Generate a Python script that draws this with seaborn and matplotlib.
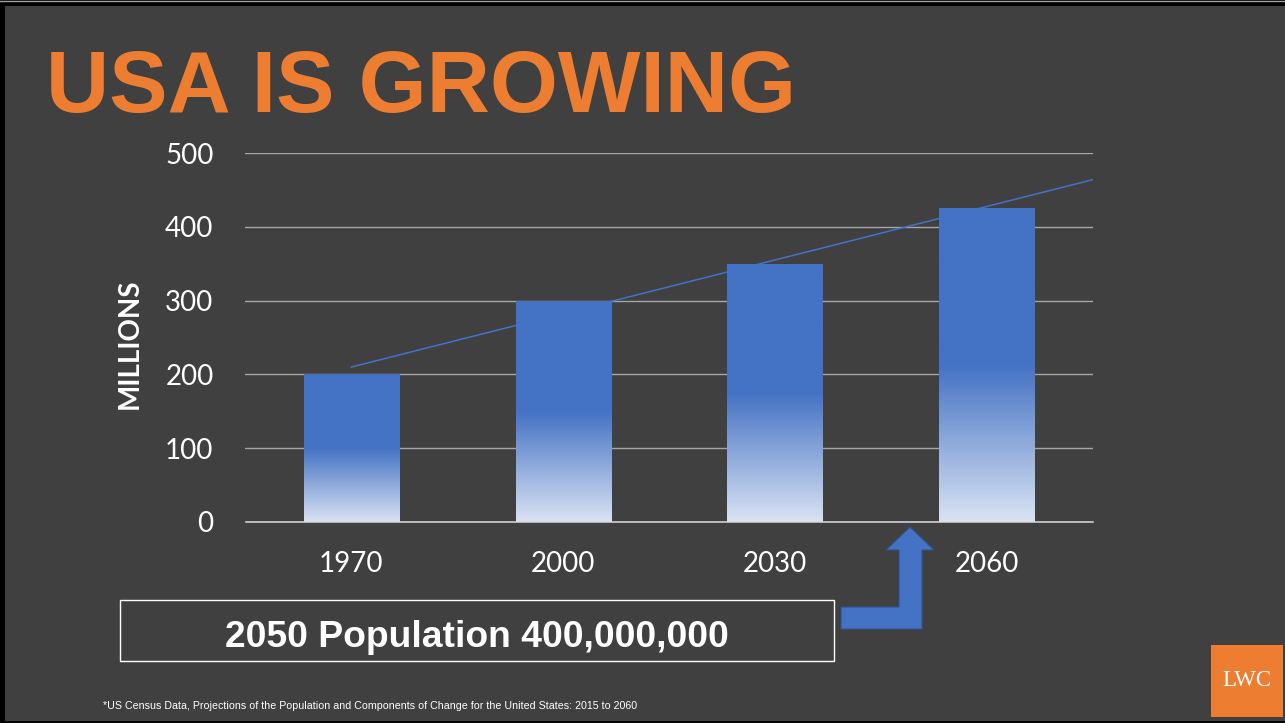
import numpy as np
import pandas as pd
import matplotlib
matplotlib.use("Agg")
import matplotlib.pyplot as plt
from matplotlib.patches import Rectangle, Polygon
from matplotlib.colors import to_rgb
import seaborn as sns

# Population by year, in millions
years = ["1970", "2000", "2030", "2060"]
population = [200, 300, 350, 425]
y_ticks = [0, 100, 200, 300, 400, 500]

title = "USA IS GROWING"
y_label = "MILLIONS"
callout = "2050 Population 400,000,000"
source_note = ("*US Census Data, Projections of the Population and Components "
               "of Change for the United States: 2015 to 2060")
logo = "LWC"

W, H = 1285, 723
BG = "#404040"
BLUE = "#4472c4"
LIGHT = "#dae3f3"
ORANGE = "#ed7d31"


def fx(x):
    return x / W


def fy(y):
    return 1 - y / H


fig = plt.figure(figsize=(W / 100, H / 100), dpi=100, facecolor="black")

# slide panel
fig.patches.append(Rectangle((fx(5), fy(721)), 1 - fx(5), fy(6) - fy(721),
                             transform=fig.transFigure, facecolor=BG,
                             edgecolor="none", zorder=-10))
fig.lines.append(plt.Line2D([0, 1], [fy(0.5), fy(0.5)], transform=fig.transFigure,
                            color="#a0a0a0", lw=1))

ax = fig.add_axes([fx(245.5), fy(522), fx(847), fy(153) - fy(522)])
ax.set_facecolor("none")

df = pd.DataFrame({"year": years, "population": population})
sns.barplot(data=df, x="year", y="population", color=BLUE, width=0.449,
            saturation=1, ax=ax, zorder=2)

# vertical gradient fill: light at the base, solid blue over the upper half
n = 256
t = np.linspace(0, 1, n)
mix = np.clip(t / 0.5, 0, 1)
c0, c1 = np.array(to_rgb(LIGHT)), np.array(to_rgb(BLUE))
grad = (c0[None, :] * (1 - mix[:, None]) + c1[None, :] * mix[:, None])
grad = np.repeat(grad[:, None, :], 2, axis=1)
for patch in ax.patches:
    x0, w, h = patch.get_x(), patch.get_width(), patch.get_height()
    im = ax.imshow(grad, extent=[x0, x0 + w, 0, h], origin="lower",
                   aspect="auto", zorder=2.5, interpolation="bilinear")
    im.set_clip_path(patch)

# linear trendline extended half a category forward
xs = np.arange(len(population))
slope, intercept = np.polyfit(xs, population, 1)
xt = np.array([0, len(population) - 0.5])
ax.plot(xt, intercept + slope * xt, color=BLUE, lw=1.1, zorder=3)

ax.set_xlim(-0.5, len(years) - 0.5)
ax.set_ylim(0, 500)
ax.set_yticks(y_ticks)
ax.set_yticklabels([str(v) for v in y_ticks])
ax.grid(axis="y", color="#a6a6a6", lw=1, zorder=0)
ax.grid(axis="x", visible=False)
for s in ["top", "right", "left"]:
    ax.spines[s].set_visible(False)
ax.spines["bottom"].set_color("#d9d9d9")
ax.spines["bottom"].set_linewidth(1.1)
ax.tick_params(axis="both", length=0, labelcolor="white", labelsize=20)
ax.tick_params(axis="y", pad=23)
ax.tick_params(axis="x", pad=21)
for lab in ax.get_xticklabels() + ax.get_yticklabels():
    lab.set_fontfamily("Lato")
ax.set_xlabel("")
ax.set_ylabel("")

fig.text(fx(130), fy(344), y_label, rotation=90, ha="center", va="center",
         color="white", fontsize=20, fontweight="bold", family="Lato")

fig.text(fx(46), fy(112), title, ha="left", va="baseline", color=ORANGE,
         fontsize=63, fontweight="bold", family="Liberation Sans")

# callout box
fig.patches.append(Rectangle((fx(120), fy(661)), fx(714), fy(600) - fy(661),
                             transform=fig.transFigure, facecolor="none",
                             edgecolor="white", lw=1))
fig.text(fx(477), fy(647), callout, ha="center", va="baseline", color="white",
         fontsize=26.8, fontweight="bold", family="Liberation Sans")

# bent-up arrow pointing at 2050
arrow_pts = [(841, 629), (922, 629), (922, 550), (934, 550), (910, 527),
             (886, 550), (899, 550), (899, 607), (841, 607)]
fig.patches.append(Polygon([(fx(x), fy(y)) for x, y in arrow_pts], closed=True,
                           transform=fig.transFigure, facecolor=BLUE,
                           edgecolor="#2f528f", lw=0.8))

fig.text(fx(103), fy(706), source_note, ha="left", va="center", color="white",
         fontsize=7.65, family="Liberation Sans")

# logo
fig.patches.append(Rectangle((fx(1211), fy(717)), fx(72), fy(645) - fy(717),
                             transform=fig.transFigure, facecolor=ORANGE,
                             edgecolor="none"))
fig.text(fx(1247), fy(681), logo, ha="center", va="center", color="white",
         fontsize=16.5, family="Liberation Serif")

fig.savefig("out.png", dpi=100, facecolor=fig.get_facecolor())
